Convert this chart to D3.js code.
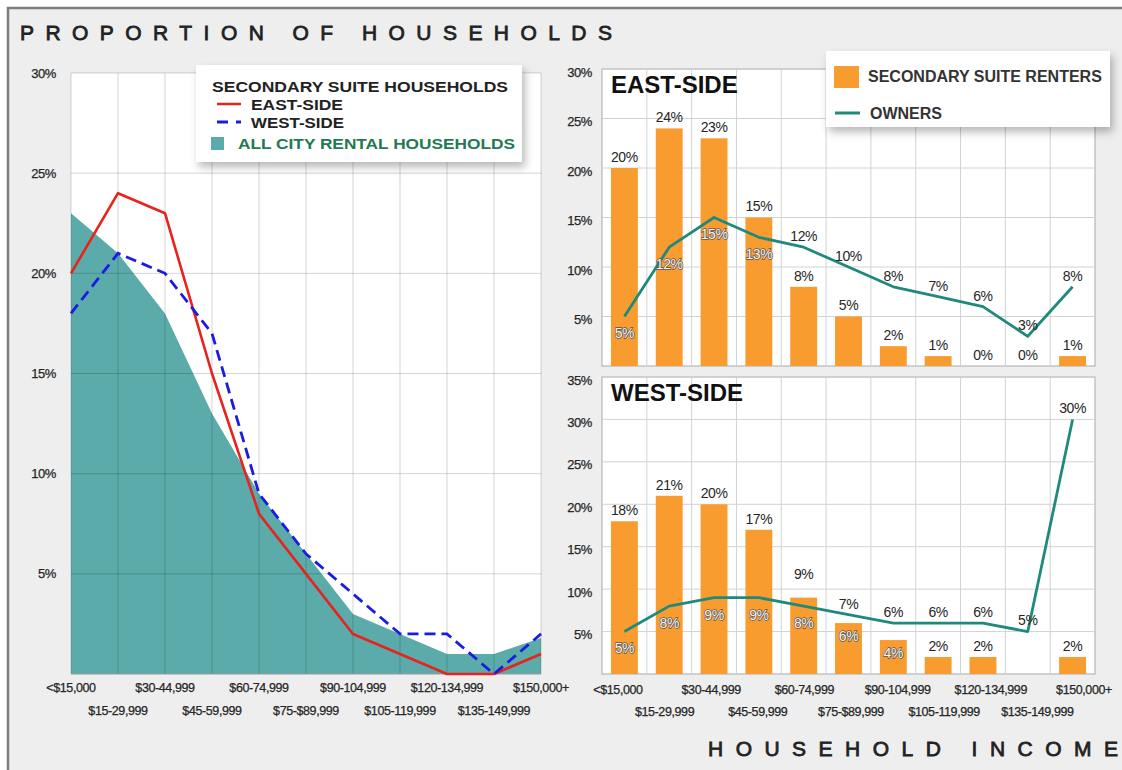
<!DOCTYPE html>
<html>
<head>
<meta charset="utf-8">
<script src="https://cdn.jsdelivr.net/npm/d3@7"></script>
<style>
  body { margin: 0; background: #fff; }
  svg { display: block; font-family: "Liberation Sans", Arial, sans-serif; }
</style>
</head>
<body>
<svg id="chart" width="1122" height="770"></svg>
<script>
// DATA
const incomeBands = ["<$15,000", "$15-29,999", "$30-44,999", "$45-59,999", "$60-74,999",
  "$75-$89,999", "$90-104,999", "$105-119,999", "$120-134,999", "$135-149,999", "$150,000+"];

// left panel (% of households)
const cityRental = [23, 21, 18, 13, 9, 6, 3, 2, 1, 1, 1.8];
const eastSuite = [20, 24, 23, 15, 8, 5, 2, 1, 0, 0, 1];
const westSuite = [18, 21, 20, 17, 9, 6, 4, 2, 2, 0, 2];

// right panels
const eastRenters = [20, 24, 23, 15, 8, 5, 2, 1, 0, 0, 1];
const eastOwners = [5, 12, 15, 13, 12, 10, 8, 7, 6, 3, 8];
const westRenters = [18, 21, 20, 17, 9, 6, 4, 2, 2, null, 2];
const westOwners = [5, 8, 9, 9, 8, 7, 6, 6, 6, 5, 30];

const leftTicks = [5, 10, 15, 20, 25, 30];
const eastTicks = [5, 10, 15, 20, 25, 30];
const westTicks = [5, 10, 15, 20, 25, 30, 35];

// COLOURS
const teal = "#5aaba9",
  red = "#e8221c",
  blue = "#1b1be3",
  orange = "#f89c30",
  ownerGreen = "#1f8a7b",
  grid = "rgba(0,0,0,0.17)",
  ink = "#262626";

const svg = d3.select("#chart");

// CANVAS / FRAME
svg.append("rect").attr("width", 1122).attr("height", 770).attr("fill", "#fff");
svg.append("rect").attr("x", 7).attr("y", 7).attr("width", 1115).attr("height", 763).attr("fill", "#eeeeee");
svg.append("line").attr("x1", 7).attr("x2", 1122).attr("y1", 8).attr("y2", 8)
  .attr("stroke", "#7d7d7d").attr("stroke-width", 2.5);
svg.append("line").attr("x1", 8).attr("x2", 8).attr("y1", 7).attr("y2", 770)
  .attr("stroke", "#7d7d7d").attr("stroke-width", 2.5);

const defs = svg.append("defs");
defs.append("filter").attr("id", "shadow").attr("x", "-10%").attr("y", "-10%")
  .attr("width", "130%").attr("height", "140%")
  .append("feDropShadow").attr("dx", 3).attr("dy", 5).attr("stdDeviation", 4)
  .attr("flood-color", "#000").attr("flood-opacity", 0.28);

// small helper so axis text gets the slightly heavy look of the original
function tickText(sel) {
  sel.attr("fill", ink).attr("stroke", ink).attr("stroke-width", 0.25)
    .attr("letter-spacing", -0.4);
}

// TITLES
svg.append("text").attr("x", 20).attr("y", 40)
  .attr("textLength", 592).attr("lengthAdjust", "spacing")
  .attr("font-size", 21).attr("fill", "#222").attr("stroke", "#222").attr("stroke-width", 0.8)
  .text("PROPORTION OF HOUSEHOLDS");

svg.append("text").attr("x", 708).attr("y", 756)
  .attr("textLength", 410).attr("lengthAdjust", "spacing")
  .attr("font-size", 21).attr("fill", "#222").attr("stroke", "#222").attr("stroke-width", 0.8)
  .text("HOUSEHOLD  INCOME");

// LEFT PANEL
const xL = d3.scalePoint().domain(incomeBands).range([71, 541]);
const yL = d3.scaleLinear().domain([0, 30]).range([674, 73]);
const gLeft = svg.append("g");

gLeft.append("rect").attr("x", 71).attr("y", yL(30))
  .attr("width", 470).attr("height", yL(0) - yL(30)).attr("fill", "#fff");

gLeft.append("path").datum(cityRental)
  .attr("fill", teal)
  .attr("d", d3.area().x((d, i) => xL(incomeBands[i])).y0(yL(0)).y1((d) => yL(d)));

gLeft.selectAll("line.h").data(leftTicks).join("line").attr("class", "h")
  .attr("x1", 71).attr("x2", 541).attr("y1", (d) => yL(d)).attr("y2", (d) => yL(d))
  .attr("stroke", grid);
gLeft.selectAll("line.v").data(incomeBands).join("line").attr("class", "v")
  .attr("x1", (d) => xL(d)).attr("x2", (d) => xL(d)).attr("y1", yL(30)).attr("y2", yL(0))
  .attr("stroke", grid);
gLeft.append("line").attr("x1", 71).attr("x2", 541).attr("y1", yL(0)).attr("y2", yL(0))
  .attr("stroke", "#9a9a9a");

const lineL = d3.line().x((d, i) => xL(incomeBands[i])).y((d) => yL(d));
gLeft.append("path").datum(eastSuite).attr("d", lineL)
  .attr("fill", "none").attr("stroke", red).attr("stroke-width", 2.6).attr("stroke-linejoin", "round");
gLeft.append("path").datum(westSuite).attr("d", lineL)
  .attr("fill", "none").attr("stroke", blue).attr("stroke-width", 2.8)
  .attr("stroke-dasharray", "11,6");

gLeft.selectAll("text.y").data(leftTicks).join("text").attr("class", "y")
  .attr("x", 56).attr("y", (d) => yL(d)).attr("dy", "0.35em")
  .attr("text-anchor", "end").attr("font-size", 13)
  .call(tickText)
  .text((d) => d + "%");

gLeft.selectAll("text.x").data(incomeBands).join("text").attr("class", "x")
  .attr("x", (d) => xL(d)).attr("y", (d, i) => (i % 2 ? 715 : 692))
  .attr("text-anchor", "middle").attr("font-size", 12.5)
  .call(tickText)
  .text((d) => d);

// left legend
const legL = svg.append("g");
legL.append("rect").attr("x", 196).attr("y", 65).attr("width", 326).attr("height", 97)
  .attr("fill", "#fff").attr("filter", "url(#shadow)");
legL.append("text").attr("x", 212).attr("y", 92)
  .attr("font-size", 15).attr("font-weight", "bold").attr("fill", "#222")
  .attr("textLength", 296).attr("lengthAdjust", "spacingAndGlyphs")
  .text("SECONDARY SUITE HOUSEHOLDS");
legL.append("line").attr("x1", 217).attr("x2", 241).attr("y1", 104).attr("y2", 104)
  .attr("stroke", red).attr("stroke-width", 2.5);
legL.append("text").attr("x", 251).attr("y", 109.5)
  .attr("font-size", 15).attr("font-weight", "bold").attr("fill", "#222")
  .attr("textLength", 92).attr("lengthAdjust", "spacingAndGlyphs")
  .text("EAST-SIDE");
legL.append("line").attr("x1", 217).attr("x2", 241).attr("y1", 122).attr("y2", 122)
  .attr("stroke", blue).attr("stroke-width", 2.8).attr("stroke-dasharray", "11,8");
legL.append("text").attr("x", 251).attr("y", 127.5)
  .attr("font-size", 15).attr("font-weight", "bold").attr("fill", "#222")
  .attr("textLength", 93).attr("lengthAdjust", "spacingAndGlyphs")
  .text("WEST-SIDE");
legL.append("rect").attr("x", 211).attr("y", 137).attr("width", 13).attr("height", 13)
  .attr("fill", teal);
legL.append("text").attr("x", 238).attr("y", 148.5)
  .attr("font-size", 15).attr("font-weight", "bold").attr("fill", "#1f7a52")
  .attr("textLength", 277).attr("lengthAdjust", "spacingAndGlyphs")
  .text("ALL CITY RENTAL HOUSEHOLDS");

// RIGHT PANELS
const xR = d3.scaleBand().domain(incomeBands).range([602, 1095]);
const xTick = d3.scalePoint().domain(incomeBands).range([618, 1084]);

function outlined(sel) {
  sel.attr("fill", "#f6f6f6").attr("stroke", "#555").attr("stroke-width", 1.4)
    .attr("paint-order", "stroke");
}

function drawPanel(title, renters, owners, ticks, yMax, top, bottom) {
  const y = d3.scaleLinear().domain([0, yMax]).range([bottom, top]);
  const g = svg.append("g");
  const cx = (i) => xR(incomeBands[i]) + xR.bandwidth() / 2;

  g.append("rect").attr("x", 602).attr("y", top).attr("width", 493).attr("height", bottom - top)
    .attr("fill", "#fff").attr("stroke", "#a9a9a9");

  g.selectAll("line.h").data(ticks).join("line").attr("class", "h")
    .attr("x1", 602).attr("x2", 1095).attr("y1", (d) => y(d)).attr("y2", (d) => y(d))
    .attr("stroke", "#d2d2d2");
  g.selectAll("line.v").data(incomeBands.slice(1)).join("line").attr("class", "v")
    .attr("x1", (d) => xR(d)).attr("x2", (d) => xR(d)).attr("y1", top).attr("y2", bottom)
    .attr("stroke", "#d2d2d2");

  const barW = xR.bandwidth() * 0.6;
  g.selectAll("rect.bar").data(renters.map((v, i) => ({ v, i })).filter((d) => d.v))
    .join("rect").attr("class", "bar")
    .attr("x", (d) => cx(d.i) - barW / 2).attr("width", barW)
    .attr("y", (d) => y(d.v)).attr("height", (d) => y(0) - y(d.v))
    .attr("fill", orange);

  g.append("path").datum(owners)
    .attr("d", d3.line().x((d, i) => cx(i)).y((d) => y(d)))
    .attr("fill", "none").attr("stroke", ownerGreen).attr("stroke-width", 2.8)
    .attr("stroke-linejoin", "round");

  // value labels: renters above the bar, owners above or below the line point
  renters.forEach((v, i) => {
    if (v === null) return;
    const o = owners[i];
    let dy = -11, inside = false;
    if (o - v > 0 && o - v <= 2) { dy = 13; inside = true; }
    else if (v - o > 0 && v - o <= 1) dy = -24;
    const t = g.append("text").attr("x", cx(i)).attr("y", y(v) + dy).attr("dy", "0.35em")
      .attr("text-anchor", "middle").attr("font-size", 14).attr("fill", ink)
      .attr("letter-spacing", -0.4).text(v + "%");
    if (inside) outlined(t);
  });
  owners.forEach((o, i) => {
    const v = renters[i] || 0;
    const below = o < v;
    const t = g.append("text").attr("x", cx(i)).attr("y", y(o) + (below ? 17 : -11)).attr("dy", "0.35em")
      .attr("text-anchor", "middle").attr("font-size", 14).attr("fill", ink)
      .attr("letter-spacing", -0.4).text(o + "%");
    if (below) outlined(t);
  });

  g.selectAll("text.y").data(ticks).join("text").attr("class", "y")
    .attr("x", 592).attr("y", (d) => y(d) + 3).attr("dy", "0.35em")
    .attr("text-anchor", "end").attr("font-size", 13)
    .call(tickText)
    .text((d) => d + "%");

  g.append("text").attr("x", 611).attr("y", top + 16).attr("dy", "0.35em")
    .attr("font-size", 24).attr("font-weight", "bold").attr("fill", "#111")
    .text(title);
  return g;
}

drawPanel("EAST-SIDE", eastRenters, eastOwners, eastTicks, 30, 69, 366);
drawPanel("WEST-SIDE", westRenters, westOwners, westTicks, 35, 377, 674);

svg.append("g").selectAll("text").data(incomeBands).join("text")
  .attr("x", (d) => xTick(d)).attr("y", (d, i) => (i % 2 ? 716 : 694))
  .attr("text-anchor", "middle").attr("font-size", 12.5)
  .call(tickText)
  .text((d) => d);

// right legend
const legR = svg.append("g");
legR.append("rect").attr("x", 826).attr("y", 51).attr("width", 284).attr("height", 76)
  .attr("fill", "#fff").attr("filter", "url(#shadow)");
legR.append("rect").attr("x", 834).attr("y", 66).attr("width", 25).attr("height", 22).attr("fill", orange);
legR.append("text").attr("x", 868).attr("y", 81.5)
  .attr("font-size", 16).attr("font-weight", "bold").attr("fill", "#333")
  .text("SECONDARY SUITE RENTERS");
legR.append("line").attr("x1", 835).attr("x2", 860).attr("y1", 113).attr("y2", 113)
  .attr("stroke", ownerGreen).attr("stroke-width", 3);
legR.append("text").attr("x", 870).attr("y", 118.5)
  .attr("font-size", 16).attr("font-weight", "bold").attr("fill", "#333")
  .text("OWNERS");
</script>
</body>
</html>
